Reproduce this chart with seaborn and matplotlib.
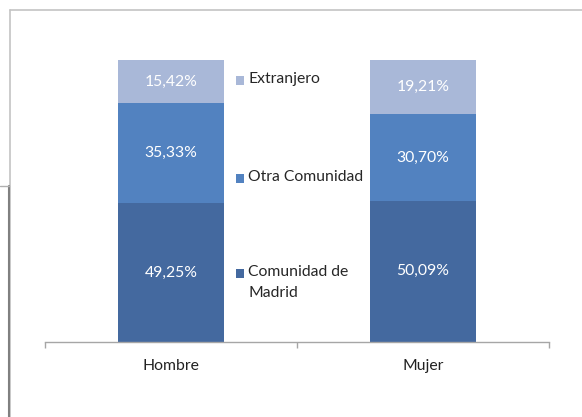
import matplotlib
matplotlib.use("Agg")
import matplotlib.pyplot as plt
import seaborn as sns
import pandas as pd
import numpy as np
from matplotlib.patches import Rectangle
from matplotlib.lines import Line2D

categories = ["Hombre", "Mujer"]
series = ["Comunidad de Madrid", "Otra Comunidad", "Extranjero"]
madrid = [49.25, 50.09]
otra = [35.33, 30.70]
extranjero = [15.42, 19.21]
label_texts = {
    "Comunidad de Madrid": ["49,25%", "50,09%"],
    "Otra Comunidad": ["35,33%", "30,70%"],
    "Extranjero": ["15,42%", "19,21%"],
}
colors = {"Comunidad de Madrid": "#44699f", "Otra Comunidad": "#5282c0", "Extranjero": "#a9b8d8"}

sns.set_style("white")
plt.rcParams["font.family"] = ["Lato", "DejaVu Sans"]

W, H = 582, 417
fig = plt.figure(figsize=(W / 100, H / 100), dpi=100)
ax = fig.add_axes([45 / W, 1 - 342 / H, (549 - 45) / W, (342 - 60) / H])

layers = [madrid, otra, extranjero]
cum = np.cumsum(np.array(layers), axis=0)

# draw from tallest (total) down so lower layers overlay
for i in range(len(series) - 1, -1, -1):
    d = pd.DataFrame({"cat": categories, "val": cum[i]})
    sns.barplot(data=d, x="cat", y="val", color=colors[series[i]], width=0.42,
                saturation=1, edgecolor="none", linewidth=0, ax=ax)

# data labels
for i, s in enumerate(series):
    for j in range(len(categories)):
        bottom = cum[i][j] - layers[i][j]
        ax.text(j, bottom + layers[i][j] / 2, label_texts[s][j], ha="center", va="center",
                color="white", fontsize=11.3)

ax.set_xlim(-0.5, 1.5)
ax.set_ylim(0, 100)
ax.set_xlabel("")
ax.set_ylabel("")
ax.set_yticks([])
for sp in ["top", "right", "left"]:
    ax.spines[sp].set_visible(False)
ax.spines["bottom"].set_color("#a6a6a6")
ax.spines["bottom"].set_linewidth(1.0)
ax.set_xticks([0, 1])
ax.set_xticklabels(categories, fontsize=11.3, color="#222222")
ax.set_xticks([-0.5, 0.5, 1.5], minor=True)
ax.tick_params(axis="x", which="both", bottom=True)
ax.tick_params(axis="x", which="major", length=0, pad=12)
ax.tick_params(axis="x", which="minor", length=4.5, color="#a6a6a6", width=1.0, direction="out")

# legend (manual, placed between bars)
leg_y = [1 - 80 / H, 1 - 178 / H, 1 - 273 / H]
for s, lab, yy in zip(["Extranjero", "Otra Comunidad", "Comunidad de Madrid"],
                      ["Extranjero", "Otra Comunidad", "Comunidad de\nMadrid"], leg_y):
    fig.patches.append(Rectangle((236 / W, yy - 4.5 / H), 8 / W, 9 / H, transform=fig.transFigure,
                                 facecolor=colors[s], edgecolor="none"))
    fig.text(248 / W, yy + 8 / H, lab, ha="left", va="top", fontsize=11.3, color="#262626",
             linespacing=1.6)

# outer frame
fig.add_artist(Line2D([9.5 / W, 1], [1 - 10 / H, 1 - 10 / H], transform=fig.transFigure,
                      color="#c4c4c4", lw=1.2))
fig.add_artist(Line2D([9.5 / W, 9.5 / W], [0, 1 - 10 / H], transform=fig.transFigure,
                      color="#c4c4c4", lw=1.2))
fig.add_artist(Line2D([8.5 / W, 8.5 / W], [0, 1 - 186 / H], transform=fig.transFigure,
                      color="#808080", lw=1.5))
fig.add_artist(Line2D([0, 9 / W], [1 - 186 / H, 1 - 186 / H], transform=fig.transFigure,
                      color="#b0b0b0", lw=1.0))

fig.savefig("out.png", dpi=100)
